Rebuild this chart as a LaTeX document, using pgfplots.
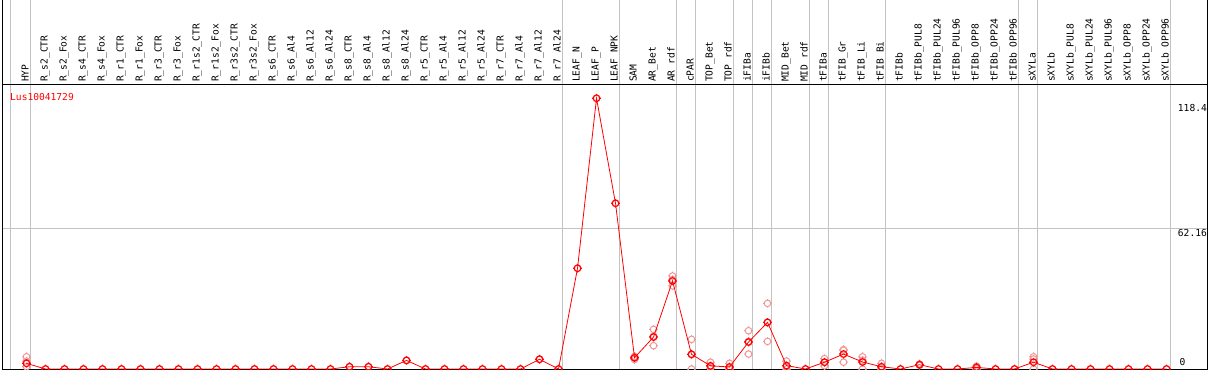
\documentclass[border=0pt]{standalone}
\usepackage{fontspec}
\newfontfamily\labfont{DejaVu Sans Mono}
\usepackage{pgfplots}
\pgfplotsset{compat=1.18}
\definecolor{repl}{RGB}{240,150,150}
\definecolor{sep}{RGB}{195,195,195}
\pgfdeclareplotmark{sun}{%
  \pgfpathcircle{\pgfpointorigin}{\pgfplotmarksize}%
  \pgfpathmoveto{\pgfpoint{\pgfplotmarksize}{0pt}}\pgfpathlineto{\pgfpoint{1.3\pgfplotmarksize}{0pt}}%
  \pgfpathmoveto{\pgfpoint{-\pgfplotmarksize}{0pt}}\pgfpathlineto{\pgfpoint{-1.3\pgfplotmarksize}{0pt}}%
  \pgfpathmoveto{\pgfpoint{0pt}{\pgfplotmarksize}}\pgfpathlineto{\pgfpoint{0pt}{1.3\pgfplotmarksize}}%
  \pgfpathmoveto{\pgfpoint{0pt}{-\pgfplotmarksize}}\pgfpathlineto{\pgfpoint{0pt}{-1.3\pgfplotmarksize}}%
  \pgfusepathqstroke
}
\newcommand\lab{\labfont\fontsize{9.6}{10}\selectfont}
\begin{document}
\begin{tikzpicture}
\begin{axis}[
  scale only axis, width=1205pt, height=369pt,
  xmin=-1.2895, xmax=62.132, ymin=0, ymax=163.02,
  axis line style={black, line width=1pt},
  xtick={0,...,60},
  xticklabels={HYP, R\_s2\_CTR, R\_s2\_Fox, R\_s4\_CTR, R\_s4\_Fox, R\_r1\_CTR, R\_r1\_Fox, R\_r3\_CTR, R\_r3\_Fox, R\_r1s2\_CTR, R\_r1s2\_Fox, R\_r3s2\_CTR, R\_r3s2\_Fox, R\_s6\_CTR, R\_s6\_Al4, R\_s6\_Al12, R\_s6\_Al24, R\_s8\_CTR, R\_s8\_Al4, R\_s8\_Al12, R\_s8\_Al24, R\_r5\_CTR, R\_r5\_Al4, R\_r5\_Al12, R\_r5\_Al24, R\_r7\_CTR, R\_r7\_Al4, R\_r7\_Al12, R\_r7\_Al24, LEAF\_N, LEAF\_P, LEAF\_NPK, SAM, AR\_Bet, AR\_rdf, cPAR, TOP\_Bet, TOP\_rdf, iFIBa, iFIBb, MID\_Bet, MID\_rdf, tFIBa, tFIB\_Gr, tFIB\_Li, tFIB\_Bi, tFIBb, tFIBb\_PUL8, tFIBb\_PUL24, tFIBb\_PUL96, tFIBb\_OPP8, tFIBb\_OPP24, tFIBb\_OPP96, sXYLa, sXYLb, sXYLb\_PUL8, sXYLb\_PUL24, sXYLb\_PUL96, sXYLb\_OPP8, sXYLb\_OPP24, sXYLb\_OPP96},
  xticklabel pos=right,
  xticklabel shift=-82pt,
  xticklabel style={rotate=90, anchor=mid west, inner sep=0pt, font=\lab},
  major tick length=0pt,
  tick style={draw=none},
  ytick={62.16}, yticklabels={},
  ymajorgrids,
  major grid style={sep, line width=1pt},
  extra y ticks={125.47}, extra y tick labels={},
  extra y tick style={major grid style={black, line width=1pt}},
  extra x ticks={-0.868,0.22,28.22,31.2,34.22,35.22,37.22,38.22,39.22,41.21,42.22,45.22,52.2,53.2,60.2},
  extra x tick labels={},
  extra x tick style={grid=major, major grid style={sep, line width=1pt}},
  clip marker paths=true,
]
% replicate measurements
\addplot[only marks, mark=sun, mark size=3.3pt, draw=repl, line width=1pt] coordinates {
(0,5.4) (0,3.5) (0,1.0)
(17,1.0) (18,1.0) (20,3.8) (27,4.3)
(32,5.6) (32,4.2) (32,4.8)
(33,17.5) (33,10.3) (33,14.5)
(34,41.1) (34,36.7) (34,39.5)
(35,13.1) (35,0) (35,6.4)
(36,3.0) (36,1.0) (36,0.3)
(37,2.5) (37,0.3) (37,0)
(38,16.9) (38,6.6) (38,12.2)
(39,29.0) (39,12.2) (39,20.6)
(40,3.5) (40,1.0) (40,0)
(42,4.6) (42,3.0) (42,1.4)
(43,8.5) (43,3.0) (43,8.3)
(44,5.4) (44,3.9) (44,0)
(45,2.5) (45,0.5) (45,0)
(47,2.2) (47,1.9) (47,1.6)
(50,1.3) (50,0.8) (50,0)
(53,5.4) (53,4.4) (53,0)
};
% mean expression
\addplot[red, line width=0.8pt, mark=sun, mark size=3.3pt, mark options={line width=1.2pt}] coordinates {
(0,2.5) (1,0) (2,0) (3,0) (4,0) (5,0) (6,0) (7,0) (8,0) (9,0)
(10,0) (11,0) (12,0) (13,0) (14,0) (15,0) (16,0) (17,1.0) (18,1.0) (19,0)
(20,3.8) (21,0) (22,0) (23,0) (24,0) (25,0) (26,0) (27,4.3) (28,0) (29,44.5)
(30,119.6) (31,73.2) (32,5.0) (33,14.1) (34,38.9) (35,6.5) (36,1.4) (37,0.9) (38,11.9) (39,20.6)
(40,1.5) (41,0) (42,3.0) (43,6.6) (44,3.1) (45,1.0) (46,0) (47,1.9) (48,0) (49,0)
(50,0.7) (51,0) (52,0) (53,3.0) (54,0) (55,0) (56,0) (57,0) (58,0) (59,0) (60,0)
};
\node[anchor=west, inner sep=0pt, font=\lab, text=red] at (axis cs:-0.868,120.3) {Lus10041729};
\node[anchor=west, inner sep=0pt, font=\lab] at (axis cs:60.59,115.3) {118.4};
\node[anchor=west, inner sep=0pt, font=\lab] at (axis cs:60.59,59.9) {62.16};
\node[anchor=west, inner sep=0pt, font=\lab] at (axis cs:60.68,3.1) {0};
\end{axis}
\pgfresetboundingbox
\useasboundingbox (-2pt,-1pt) rectangle (1207pt,369pt);
\end{tikzpicture}
\end{document}
